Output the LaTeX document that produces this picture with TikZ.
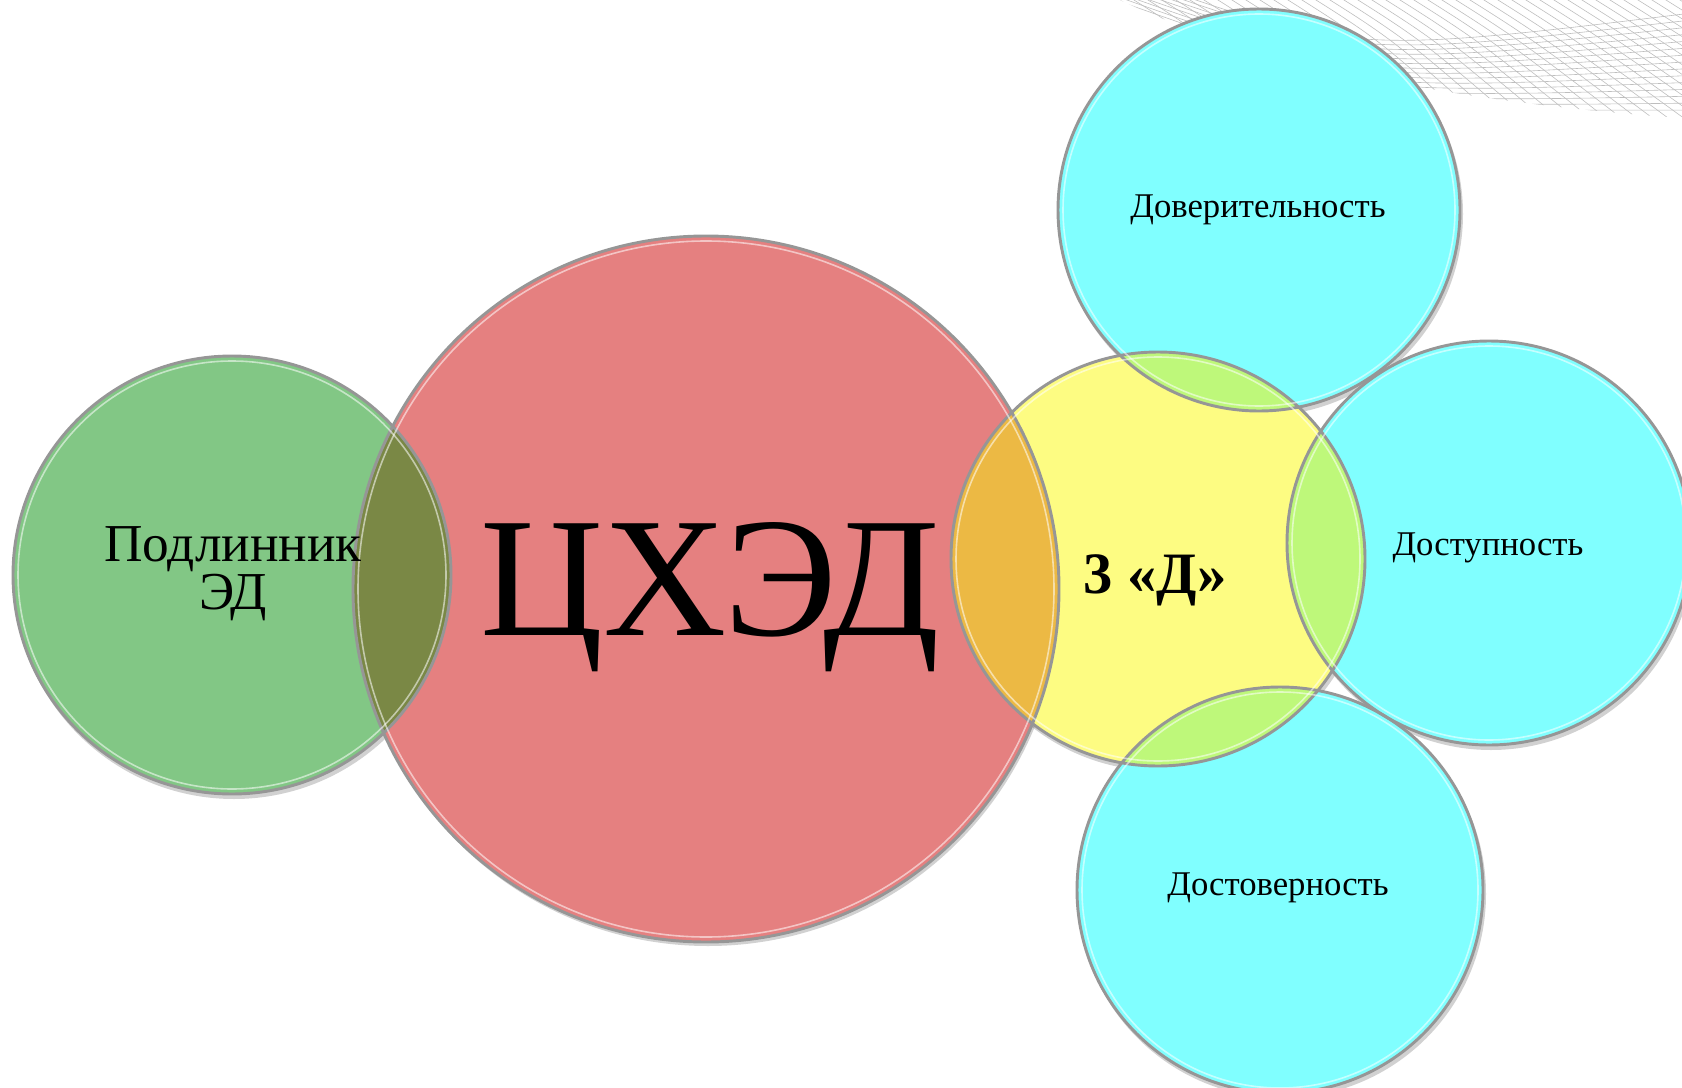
\documentclass[tikz,border=0pt]{standalone}
\usepackage{fontspec}
\setmainfont{Liberation Serif}
\usetikzlibrary{calc}
\definecolor{fillgreen}{RGB}{130,199,133}
\definecolor{fillred}{RGB}{229,128,128}
\definecolor{fillyellow}{RGB}{253,252,130}
\definecolor{fillcyan}{RGB}{128,255,255}
\definecolor{lensolive}{RGB}{122,136,69}
\definecolor{lensorange}{RGB}{236,185,68}
\definecolor{lenslime}{RGB}{190,248,122}
\tikzset{
  rim/.style={draw={rgb,255:red,150;green,150;blue,150}, line width=2.2pt},
  gloss/.style={draw=white, line width=1.2pt, opacity=0.55},
  shade/.style={fill=black, opacity=0.18},
  meshline/.style={draw={rgb,255:red,190;green,190;blue,190}, line width=0.45pt},
  label/.style={inner sep=0.75pt, align=center}
}
\begin{document}
\begin{tikzpicture}[x=0.75pt,y=0.75pt,yscale=-1,xscale=1]
\useasboundingbox (0,0) rectangle (1682,1088);

% background mesh, top right
\begin{scope}
\clip (1120,0) .. controls (1250,62) and (1450,102) .. (1682,118) -- (1682,0) -- cycle;
\foreach \i in {0,...,45} \draw[meshline] (1090+14*\i,-10) .. controls (1170+14*\i,40) .. (1250+16*\i,140);
\foreach \j in {0,...,14} \draw[meshline] (1110,-30+4*\j) .. controls (1350,55+4*\j) .. (1700,12+7*\j);
\end{scope}

% centres
\coordinate (c-podl) at (232,575);
\coordinate (c-chxed) at (706,589);
\coordinate (c-tri) at (1158,559);
\coordinate (c-dover) at (1259,210);
\coordinate (c-dostup) at (1489,543);
\coordinate (c-dostov) at (1280,890);

% shadows
\fill[shade] ($(c-chxed)+(2,4)$) circle (353);
\fill[shade] ($(c-podl)+(2,4)$) circle (220);
\fill[shade] ($(c-dover)+(2,4)$) circle (202);
\fill[shade] ($(c-dostup)+(2,4)$) circle (203);
\fill[shade] ($(c-dostov)+(2,4)$) circle (204);
\fill[shade] ($(c-tri)+(2,4)$) circle (208);

% discs
\fill[fillred] (c-chxed) circle (353);
\fill[fillgreen] (c-podl) circle (219);
\fill[fillcyan] (c-dover) circle (201);
\fill[fillcyan] (c-dostup) circle (202);
\fill[fillcyan] (c-dostov) circle (203);
\fill[fillyellow] (c-tri) circle (207);

% overlaps
\begin{scope}
\clip (c-podl) circle (219);
\fill[lensolive] (c-chxed) circle (353);
\end{scope}
\begin{scope}
\clip (c-tri) circle (207);
\fill[lensorange] (c-chxed) circle (353);
\fill[lenslime] (c-dover) circle (201);
\fill[lenslime] (c-dostup) circle (202);
\fill[lenslime] (c-dostov) circle (203);
\end{scope}

% rims
\draw[rim] (c-chxed) circle (353);
\draw[rim] (c-podl) circle (219);
\draw[rim] (c-dover) circle (201);
\draw[rim] (c-dostup) circle (202);
\draw[rim] (c-dostov) circle (203);
\draw[rim] (c-tri) circle (207);
\draw[gloss] (c-chxed) circle (348);
\draw[gloss] (c-podl) circle (214);
\draw[gloss] (c-dover) circle (196);
\draw[gloss] (c-dostup) circle (197);
\draw[gloss] (c-dostov) circle (198);
\draw[gloss] (c-tri) circle (202);

% Text Node
\node[label, anchor=base, font=\fontsize{128}{128}\selectfont] (chxed) at (710,635) {ЦХЭД};
% Text Node
\node[label, anchor=center, font=\fontsize{40}{36}\selectfont] (podl) at (233,574) {Подлинник\\ЭД};
% Text Node
\node[label, anchor=base, font=\fontsize{44}{44}\selectfont\bfseries] (tri) at (1155,593) {3 «Д»};
% Text Node
\node[label, anchor=base, font=\fontsize{26}{26}\selectfont] (dover) at (1258,217) {Доверительность};
% Text Node
\node[label, anchor=base, font=\fontsize{26}{26}\selectfont] (dostup) at (1488,555) {Доступность};
% Text Node
\node[label, anchor=base, font=\fontsize{26}{26}\selectfont] (dostov) at (1278,895) {Достоверность};

\end{tikzpicture}
\end{document}
